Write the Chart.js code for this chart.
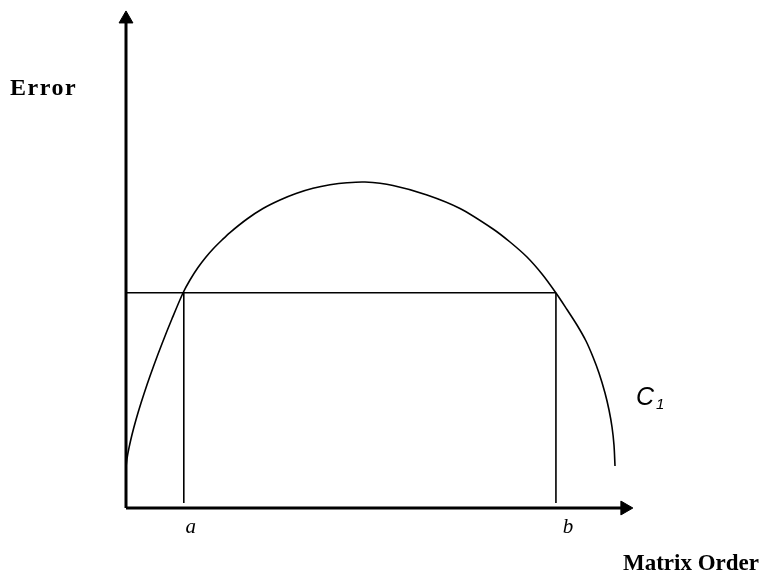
<!DOCTYPE html>
<html>
<head>
<meta charset="utf-8">
<script src="https://cdn.jsdelivr.net/npm/chart.js@4/dist/chart.umd.min.js"></script>
<style>
  html, body { margin: 0; padding: 0; background: #fff; }
  #wrap { width: 761px; height: 576px; position: relative; }
</style>
</head>
<body>
<div id="wrap"><canvas id="c"></canvas></div>
<script>
// Curve C1: Error vs Matrix Order (arbitrary units 0..100)
const curveX = [0.00, 0.20, 0.59, 1.18, 1.97, 2.96, 4.14, 5.52, 7.10, 9.07, 11.24, 12.62, 14.20, 15.78, 17.16, 18.93, 20.51, 23.87, 27.02, 30.37, 33.53, 36.88, 40.24, 43.59, 47.14, 52.66, 59.37, 65.88, 72.39, 75.74, 79.09, 82.05, 84.81, 86.98, 88.95, 90.73, 92.11, 93.29, 94.48, 95.27, 95.86, 96.25, 96.45];
const curveY = [8.25, 9.94, 12.09, 14.73, 17.75, 21.11, 24.81, 28.79, 33.06, 38.07, 43.26, 45.88, 48.39, 50.50, 52.11, 53.92, 55.43, 58.15, 60.26, 61.97, 63.28, 64.33, 65.03, 65.45, 65.59, 64.89, 62.98, 60.26, 56.14, 53.52, 50.50, 47.08, 43.26, 39.94, 36.82, 33.60, 30.38, 27.16, 23.14, 19.72, 16.30, 12.68, 8.45];
// Marked orders a and b and the error threshold
const markA = 11.4;
const markB = 84.8;
const threshold = 43.3;
const markBottom = 1.0;
// Axis extents
const xAxisEnd = 98.4;
const yAxisEnd = 98.4;
// Labels
const xTitle = 'Matrix Order';
const yTitle = 'Error';
const curveLabel = 'C';
const curveLabelSub = '1';
const tickLabels = ['a', 'b'];

const toPts = (xs, ys) => xs.map((x, i) => ({x: x, y: ys[i]}));

const labelPlugin = {
  id: 'labels',
  afterDraw(chart) {
    const ctx = chart.ctx;
    const xs = chart.scales.x, ys = chart.scales.y;
    ctx.save();
    ctx.fillStyle = '#000';
    ctx.textBaseline = 'alphabetic';
    // y title
    ctx.font = 'bold 24px "Liberation Serif"';
    ctx.textAlign = 'left';
    ctx.letterSpacing = '1.5px';
    ctx.fillText(yTitle, 10, 95);
    ctx.letterSpacing = '0px';
    // x title
    ctx.font = 'bold 23px "Liberation Serif"';
    ctx.textAlign = 'right';
    ctx.fillText(xTitle, 759, 570);
    // a, b
    ctx.font = 'italic 21px "Liberation Serif"';
    ctx.textAlign = 'center';
    ctx.fillText(tickLabels[0], xs.getPixelForValue(markA) + 7, ys.getPixelForValue(0) + 25);
    ctx.fillText(tickLabels[1], xs.getPixelForValue(markB) + 12, ys.getPixelForValue(0) + 25);
    // C1
    ctx.font = 'italic 25px "Liberation Sans"';
    ctx.textAlign = 'left';
    ctx.fillText(curveLabel, 636, 405);
    ctx.font = 'italic 15px "Liberation Sans"';
    ctx.fillText(curveLabelSub, 656, 409);
    ctx.restore();
  }
};

new Chart(document.getElementById('c'), {
  type: 'scatter',
  data: {
    datasets: [
      { // curve
        data: toPts(curveX, curveY),
        showLine: true, borderColor: '#000', borderWidth: 1.6,
        pointRadius: 0, tension: 0.3, fill: false, clip: false
      },
      { // threshold + rectangle
        data: [{x: 0, y: threshold}, {x: markB, y: threshold}],
        showLine: true, borderColor: '#000', borderWidth: 1.4, pointRadius: 0, clip: false
      },
      {
        data: [{x: markA, y: threshold}, {x: markA, y: markBottom}],
        showLine: true, borderColor: '#000', borderWidth: 1.6, pointRadius: 0, clip: false
      },
      {
        data: [{x: markB, y: threshold}, {x: markB, y: markBottom}],
        showLine: true, borderColor: '#000', borderWidth: 1.6, pointRadius: 0, clip: false
      },
      { // y axis with arrow
        data: [{x: 0, y: 0}, {x: 0, y: yAxisEnd}],
        showLine: true, borderColor: '#000', borderWidth: 3,
        pointRadius: [0, 8], pointStyle: 'triangle', rotation: 0,
        backgroundColor: '#000', pointBorderColor: '#000', pointBorderWidth: 1, clip: false
      },
      { // x axis with arrow
        data: [{x: 0, y: 0}, {x: xAxisEnd, y: 0}],
        showLine: true, borderColor: '#000', borderWidth: 3,
        pointRadius: [0, 8], pointStyle: 'triangle', rotation: 90,
        backgroundColor: '#000', pointBorderColor: '#000', pointBorderWidth: 1, clip: false
      }
    ]
  },
  options: {
    responsive: true, maintainAspectRatio: false, animation: false,
    layout: { padding: { left: 126, right: 128, top: 11, bottom: 68 } },
    plugins: { legend: { display: false }, tooltip: { enabled: false } },
    scales: {
      x: { type: 'linear', min: 0, max: 100, display: false },
      y: { type: 'linear', min: 0, max: 100, display: false }
    }
  },
  plugins: [labelPlugin]
});
</script>
</body>
</html>
